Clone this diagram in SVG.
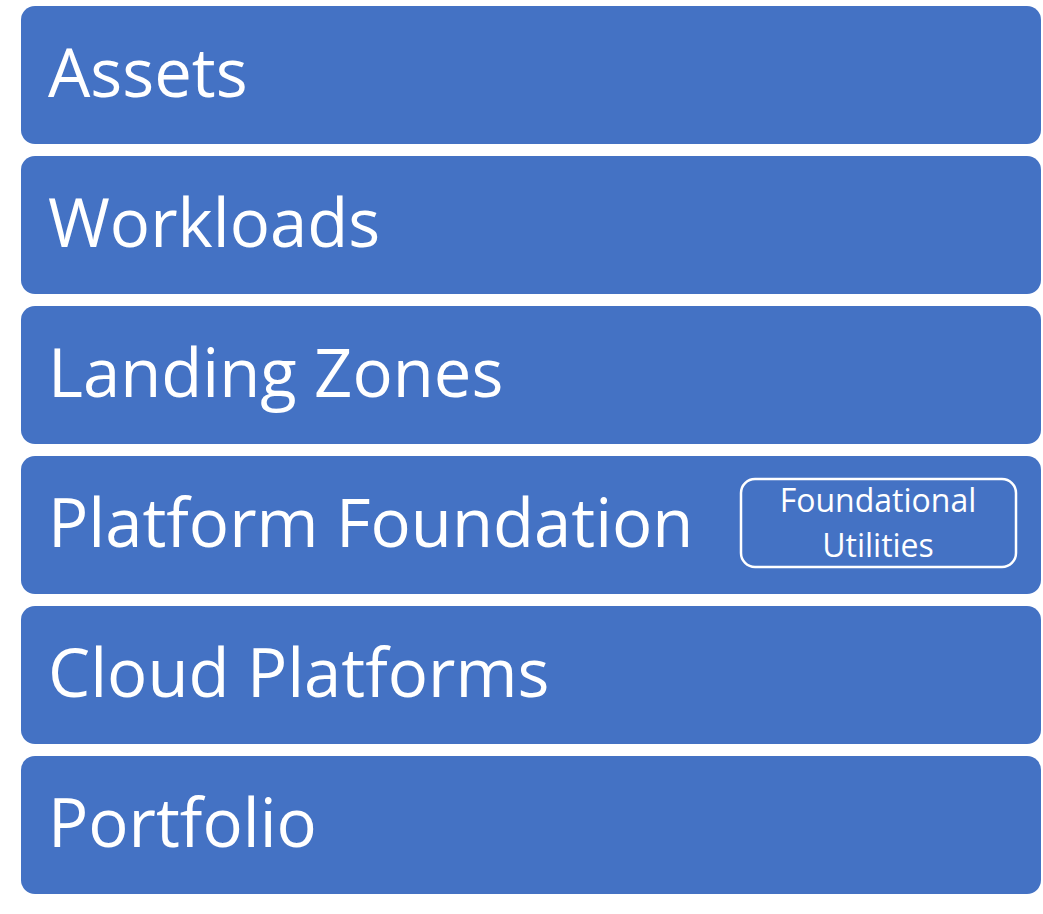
<svg xmlns="http://www.w3.org/2000/svg" width="1043" height="914" viewBox="0 0 1043 914">
  <style>
    .band { fill: #4472C4; }
    .label { fill: #FFFFFF; font-family: "Open Sans", "Noto Sans", "Liberation Sans", sans-serif; font-size: 67px; }
    .sub { fill: none; stroke: #FFFFFF; stroke-width: 2.5; }
    .sublabel { fill: #FFFFFF; font-family: "Open Sans", "Noto Sans", "Liberation Sans", sans-serif; font-size: 32px; text-anchor: middle; }
  </style>
  <rect width="1043" height="914" fill="#FFFFFF"/>
  <g id="assets">
    <rect class="band" x="21" y="6" width="1020" height="138" rx="14"/>
    <text class="label" x="48" y="97">Assets</text>
  </g>
  <g id="workloads">
    <rect class="band" x="21" y="156" width="1020" height="138" rx="14"/>
    <text class="label" x="48" y="247">Workloads</text>
  </g>
  <g id="landing-zones">
    <rect class="band" x="21" y="306" width="1020" height="138" rx="14"/>
    <text class="label" x="48" y="397">Landing Zones</text>
  </g>
  <g id="platform-foundation">
    <rect class="band" x="21" y="456" width="1020" height="138" rx="14"/>
    <text class="label" x="48" y="547">Platform Foundation</text>
  </g>
  <g id="foundational-utilities">
    <rect class="sub" x="741" y="479" width="275" height="88" rx="14"/>
    <text class="sublabel" x="878" y="512">Foundational</text>
    <text class="sublabel" x="878" y="557">Utilities</text>
  </g>
  <g id="cloud-platforms">
    <rect class="band" x="21" y="606" width="1020" height="138" rx="14"/>
    <text class="label" x="48" y="697">Cloud Platforms</text>
  </g>
  <g id="portfolio">
    <rect class="band" x="21" y="756" width="1020" height="138" rx="14"/>
    <text class="label" x="48" y="847">Portfolio</text>
  </g>
  <g id="connectors"></g>
</svg>
